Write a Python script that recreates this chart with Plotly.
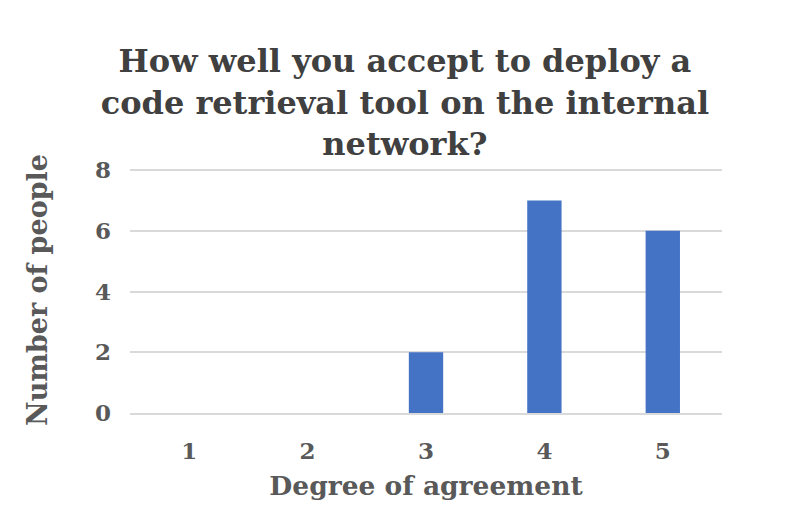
import plotly.graph_objects as go

categories = ["1", "2", "3", "4", "5"]
counts = [0, 0, 2, 7, 6]
y_ticks = [0, 2, 4, 6, 8]

title_text = "How well you accept to deploy a<br>code retrieval tool on the internal<br>network?"
serif = "DejaVu Serif"

fig = go.Figure()

fig.add_trace(go.Bar(
    x=categories, y=counts,
    marker=dict(color="#4472C4", line=dict(width=0)),
))

# page body has an 8px margin, so pull the plot area up/left by that much
fig.update_layout(
    width=805, height=509,
    paper_bgcolor="white", plot_bgcolor="white",
    margin=dict(l=122, r=91, t=159, b=104),
    bargap=0.71,
    showlegend=False,
    title=dict(
        text=title_text,
        x=0.493, xanchor="center",
        y=1 - 64 / 509, yanchor="top",
        font=dict(family=serif, size=32, color="#404040", weight="bold"),
    ),
    xaxis=dict(
        title=dict(text="Degree of agreement", standoff=14,
                   font=dict(family=serif, size=26.5, color="#595959", weight="bold")),
        tickfont=dict(family=serif, size=23, color="#595959", weight="bold"),
        showline=True, linecolor="#d9d9d9", linewidth=2,
        ticks="", ticklabelstandoff=16,
    ),
    yaxis=dict(
        title=dict(text="Number of people", standoff=39,
                   font=dict(family=serif, size=27, color="#595959", weight="bold")),
        range=[0, 8.1], tickvals=y_ticks,
        tickfont=dict(family=serif, size=23, color="#595959", weight="bold"),
        gridcolor="#d9d9d9", gridwidth=1.5, zeroline=False,
        ticks="", ticklabelstandoff=18,
    ),
)

fig.write_html("out.html")
